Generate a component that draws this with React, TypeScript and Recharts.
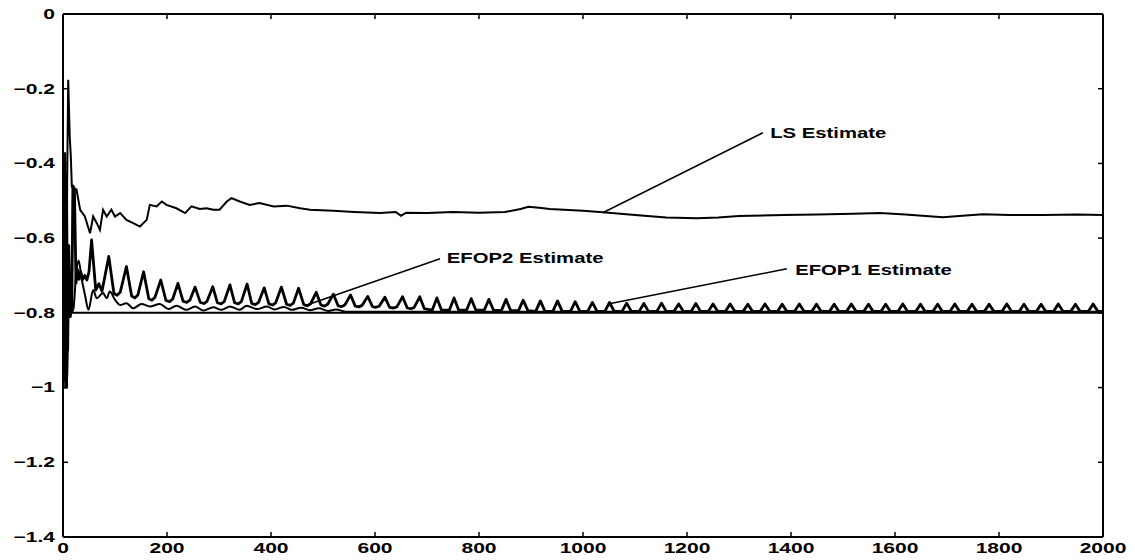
import React from 'react';
import { LineChart, Line, XAxis, YAxis, ReferenceLine, ReferenceDot } from 'recharts';

// ---- data ----
const xTicks = [0, 200, 400, 600, 800, 1000, 1200, 1400, 1600, 1800, 2000];
const yTicks = [-1.4, -1.2, -1, -0.8, -0.6, -0.4, -0.2, 0];
const trueValue = -0.8;

const lsEstimate: [number, number][] = [
  [0, -0.55], [2, -0.95], [4, -0.37], [6, -0.98], [8, -0.45], [10, -0.176], [13, -0.33], [15, -0.38],
  [17, -0.462], [26, -0.47], [33, -0.524], [42, -0.542], [52, -0.587], [58, -0.542], [65, -0.56],
  [71, -0.578], [77, -0.524], [84, -0.542], [93, -0.524], [100, -0.542], [110, -0.533], [122, -0.551],
  [135, -0.56], [148, -0.569], [161, -0.551], [167, -0.511], [180, -0.515], [190, -0.502], [199, -0.511],
  [218, -0.52], [235, -0.533], [247, -0.515], [263, -0.522], [276, -0.52], [289, -0.524], [301, -0.524],
  [315, -0.502], [324, -0.493], [340, -0.502], [359, -0.511], [378, -0.506], [405, -0.515], [430, -0.513],
  [456, -0.52], [475, -0.524], [520, -0.527], [560, -0.53], [610, -0.533], [640, -0.53], [650, -0.54],
  [660, -0.532], [700, -0.533], [750, -0.53], [800, -0.532], [850, -0.53], [880, -0.522], [895, -0.516],
  [920, -0.519], [936, -0.522], [1000, -0.527], [1038, -0.531], [1100, -0.538], [1160, -0.545],
  [1219, -0.547], [1260, -0.545], [1300, -0.541], [1385, -0.538], [1450, -0.537], [1520, -0.535],
  [1571, -0.533], [1620, -0.537], [1692, -0.544], [1730, -0.54], [1769, -0.536], [1820, -0.538],
  [1885, -0.538], [1950, -0.537], [2000, -0.538],
];

const efop1Estimate: [number, number][] = [
  [0, -0.8], [1, -0.98], [3, -0.42], [5, -1.0], [7, -0.5], [9, -0.9], [11, -0.62], [14, -0.81], [17, -0.78],
  [19, -0.46], [22, -0.47], [25, -0.72], [28, -0.685], [31, -0.71], [34, -0.69], [38, -0.71], [42, -0.7],
  [46, -0.712], [50, -0.69],
  [55, -0.605], [63, -0.739], [69, -0.722], [75, -0.742],
  [88, -0.649], [98, -0.748], [104, -0.753], [110, -0.745],
  [122, -0.676], [132, -0.755], [138, -0.76], [144, -0.752],
  [155, -0.69], [165, -0.762], [171, -0.766], [177, -0.758],
  [188, -0.712], [198, -0.767], [205, -0.77], [211, -0.763],
  [221, -0.721], [231, -0.769], [238, -0.772], [244, -0.766],
  [254, -0.731], [264, -0.772], [271, -0.775], [277, -0.769],
  [288, -0.73], [297, -0.773], [304, -0.776], [310, -0.77],
  [321, -0.725], [330, -0.773], [337, -0.776], [343, -0.77],
  [354, -0.723], [363, -0.775], [370, -0.778], [376, -0.772],
  [387, -0.733], [396, -0.776], [403, -0.779], [409, -0.773],
  [420, -0.731], [430, -0.777], [437, -0.78], [443, -0.774],
  [453, -0.734], [463, -0.778], [470, -0.781], [476, -0.776],
  [487, -0.745], [496, -0.779], [503, -0.782], [509, -0.777],
  [520, -0.75], [529, -0.781], [536, -0.783], [542, -0.779],
  [553, -0.752], [562, -0.782], [569, -0.784], [575, -0.78],
  [586, -0.756], [595, -0.783], [602, -0.785], [608, -0.782],
  [619, -0.758], [628, -0.785], [636, -0.787], [642, -0.784],
  [653, -0.757], [662, -0.787], [669, -0.789], [675, -0.786],
  [686, -0.757], [695, -0.789], [702, -0.791],
  [710, -0.793], [719, -0.76], [728, -0.793],
  [743, -0.793], [752, -0.76], [761, -0.793],
  [776, -0.793], [785, -0.762], [794, -0.793],
  [810, -0.793], [819, -0.764], [828, -0.793],
  [843, -0.794], [852, -0.764], [861, -0.794],
  [876, -0.794], [885, -0.766], [894, -0.794],
  [909, -0.796], [918, -0.768], [927, -0.796],
  [942, -0.796], [951, -0.768], [960, -0.796],
  [976, -0.796], [985, -0.77], [994, -0.796],
  [1009, -0.796], [1018, -0.772], [1027, -0.796],
  [1042, -0.796], [1051, -0.772], [1060, -0.796],
  [1075, -0.796], [1084, -0.774], [1093, -0.796],
  [1108, -0.796], [1117, -0.775], [1126, -0.796],
  [1142, -0.796], [1151, -0.774], [1160, -0.796],
  [1175, -0.796], [1184, -0.776], [1193, -0.796],
  [1208, -0.796], [1217, -0.775], [1226, -0.796],
  [1241, -0.796], [1250, -0.776], [1259, -0.796],
  [1274, -0.796], [1283, -0.776], [1292, -0.796],
  [1308, -0.796], [1317, -0.777], [1326, -0.796],
  [1341, -0.796], [1350, -0.776], [1359, -0.796],
  [1374, -0.796], [1383, -0.777], [1392, -0.796],
  [1407, -0.796], [1416, -0.776], [1425, -0.796],
  [1440, -0.796], [1449, -0.777], [1458, -0.796],
  [1474, -0.796], [1483, -0.777], [1492, -0.796],
  [1507, -0.796], [1516, -0.776], [1525, -0.796],
  [1540, -0.796], [1549, -0.777], [1558, -0.796],
  [1573, -0.796], [1582, -0.777], [1591, -0.796],
  [1606, -0.796], [1615, -0.776], [1624, -0.796],
  [1640, -0.796], [1649, -0.777], [1658, -0.796],
  [1673, -0.796], [1682, -0.777], [1691, -0.796],
  [1706, -0.796], [1715, -0.776], [1724, -0.796],
  [1739, -0.796], [1748, -0.777], [1757, -0.796],
  [1772, -0.796], [1781, -0.777], [1790, -0.796],
  [1806, -0.796], [1815, -0.776], [1824, -0.796],
  [1839, -0.796], [1848, -0.777], [1857, -0.796],
  [1872, -0.796], [1881, -0.777], [1890, -0.796],
  [1905, -0.796], [1914, -0.776], [1923, -0.796],
  [1938, -0.796], [1947, -0.777], [1956, -0.796],
  [1972, -0.796], [1981, -0.776], [1990, -0.796],
  [2000, -0.796],
];

const efop2Estimate: [number, number][] = [
  [0, -0.75], [2, -0.45], [4, -0.9], [6, -0.6], [8, -1.0], [11, -0.7], [15, -0.8], [20, -0.79], [25, -0.7],
  [30, -0.66], [36, -0.71], [42, -0.75], [49, -0.792], [58, -0.739], [65, -0.761], [77, -0.747], [84, -0.761],
  [90, -0.743], [100, -0.765], [110, -0.779], [122, -0.774], [135, -0.788], [151, -0.776], [167, -0.783],
  [186, -0.776], [203, -0.79], [218, -0.781], [238, -0.792], [254, -0.783], [270, -0.794], [289, -0.785],
  [305, -0.792], [321, -0.783], [340, -0.792], [353, -0.781], [373, -0.79], [392, -0.783], [407, -0.791],
  [425, -0.784], [440, -0.792], [458, -0.786], [475, -0.793], [492, -0.788], [510, -0.795], [525, -0.791],
  [545, -0.797], [600, -0.797], [2000, -0.797],
];

// annotation labels: text anchor point, leader line from / to
const annotationLabels = ['LS Estimate', 'EFOP2 Estimate', 'EFOP1 Estimate'];
const annotationTextAt: [number, number][] = [[1360, -0.331], [738, -0.666], [1408, -0.698]];
const annotationLineFrom: [number, number][] = [[1346, -0.318], [725, -0.655], [1392, -0.682]];
const annotationLineTo: [number, number][] = [[1038, -0.532], [465, -0.781], [1048, -0.776]];

// ---- rendering ----
const FONT = '"Liberation Sans", Arial, Helvetica, sans-serif';
const SX = 1.45;

const toPts = (a: [number, number][]) => a.map(([x, y]) => ({ x, y }));
const fmtY = (v: number) => (v === 0 ? '0' : '\u2212' + String(Math.abs(v)));

const YTick = (props: any) => {
  const { x, y, payload } = props;
  return (
    <text
      transform={`translate(${x},${y}) scale(${SX},1)`}
      textAnchor="end"
      dominantBaseline="central"
      fontFamily={FONT}
      fontSize={14.5}
      fontWeight={700}
      fill="#000"
    >
      {fmtY(payload.value)}
    </text>
  );
};

const XTick = (props: any) => {
  const { x, y, payload } = props;
  return (
    <text
      transform={`translate(${x},${y}) scale(${SX},1)`}
      textAnchor="middle"
      dominantBaseline="central"
      fontFamily={FONT}
      fontSize={14.5}
      fontWeight={700}
      fill="#000"
    >
      {String(payload.value)}
    </text>
  );
};

const Empty = () => <g />;

const labelShape = (text: string) => (props: any) => (
  <text
    transform={`translate(${props.cx},${props.cy}) scale(${SX},1)`}
    textAnchor="start"
    fontFamily={FONT}
    fontSize={14}
    fontWeight={700}
    fill="#000"
  >
    {text}
  </text>
);

const axisLine = { stroke: '#000', strokeWidth: 2 };
const tickLine = { stroke: '#000', strokeWidth: 1.5 };

export default function App() {
  return (
    <div style={{ position: 'absolute', left: 0, top: 0, width: 1135, height: 560, background: '#fff' }}>
      <LineChart width={1135} height={560} margin={{ top: 13, right: 31, bottom: 0, left: 8 }}>
        <XAxis
          dataKey="x"
          type="number"
          domain={[0, 2000]}
          ticks={xTicks}
          allowDataOverflow
          height={23}
          tickSize={-5}
          tickMargin={16}
          axisLine={axisLine}
          tickLine={tickLine}
          tick={<XTick />}
          interval={0}
        />
        <XAxis
          xAxisId="top"
          orientation="top"
          dataKey="x"
          type="number"
          domain={[0, 2000]}
          ticks={xTicks}
          allowDataOverflow
          height={1}
          tickSize={-5}
          axisLine={axisLine}
          tickLine={tickLine}
          tick={<Empty />}
          interval={0}
        />
        <YAxis
          type="number"
          domain={[-1.4, 0]}
          ticks={yTicks}
          allowDataOverflow
          width={55}
          tickSize={-5}
          tickMargin={13}
          axisLine={axisLine}
          tickLine={tickLine}
          tick={<YTick />}
          interval={0}
        />
        <YAxis
          yAxisId="right"
          orientation="right"
          type="number"
          domain={[-1.4, 0]}
          ticks={yTicks}
          allowDataOverflow
          width={1}
          tickSize={-5}
          axisLine={axisLine}
          tickLine={tickLine}
          tick={<Empty />}
          interval={0}
        />
        <ReferenceLine y={trueValue} stroke="#000" strokeWidth={2} />
        <Line data={toPts(efop2Estimate)} dataKey="y" type="monotone" stroke="#000" strokeWidth={2} dot={false} isAnimationActive={false} />
        <Line data={toPts(efop1Estimate)} dataKey="y" type="linear" stroke="#000" strokeWidth={2.8} strokeLinejoin="round" dot={false} isAnimationActive={false} />
        <Line data={toPts(lsEstimate)} dataKey="y" type="linear" stroke="#000" strokeWidth={2} dot={false} isAnimationActive={false} />
        {annotationLabels.map((t, i) => (
          <ReferenceLine
            key={'l' + i}
            segment={[
              { x: annotationLineFrom[i][0], y: annotationLineFrom[i][1] },
              { x: annotationLineTo[i][0], y: annotationLineTo[i][1] },
            ]}
            stroke="#000"
            strokeWidth={1.5}
          />
        ))}
        {annotationLabels.map((t, i) => (
          <ReferenceDot
            key={'t' + i}
            x={annotationTextAt[i][0]}
            y={annotationTextAt[i][1]}
            r={0}
            shape={labelShape(t)}
          />
        ))}
      </LineChart>
    </div>
  );
}
